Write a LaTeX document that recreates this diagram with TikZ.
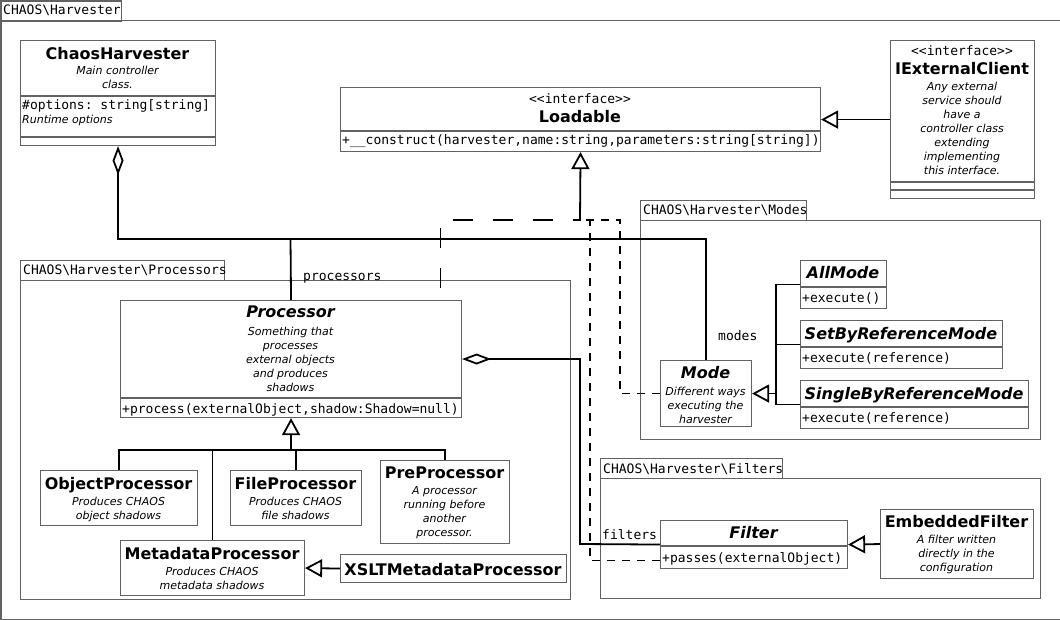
\documentclass[tikz,border=0pt]{standalone}
\usepackage{fontspec}
\setmainfont{DejaVu Sans}
\setmonofont{DejaVu Sans Mono}
\usetikzlibrary{arrows.meta, positioning}
\definecolor{boxgray}{RGB}{98,98,98}
\tikzset{
    umlbox/.style={draw=boxgray, line width=1.1pt, fill=white, rectangle, anchor=north west, inner sep=0pt},
    pkgframe/.style={draw=boxgray, line width=1.1pt, rectangle, anchor=north west, inner sep=0pt},
    cline/.style={draw=boxgray, line width=1.1pt},
    pkglabel/.style={font=\ttfamily\fontsize{13}{15}\selectfont, anchor=base west, inner sep=0pt},
    cname/.style={font=\bfseries\fontsize{16}{19}\selectfont, anchor=base, inner sep=0pt},
    cabstract/.style={font=\bfseries\itshape\fontsize{16}{19}\selectfont, anchor=base, inner sep=0pt},
    cnote/.style={font=\itshape\fontsize{11}{14}\selectfont, anchor=base, align=center, inner sep=0pt},
    cstereo/.style={font=\ttfamily\fontsize{13}{15}\selectfont, anchor=base, inner sep=0pt},
    cmember/.style={font=\ttfamily\fontsize{13}{15}\selectfont, anchor=base west, inner sep=0pt}
}
\tikzset{
    assoc/.style={line width=1.8pt},
    inherit/.style={line width=1.8pt, -{Triangle[open, length=17pt, width=18pt]}},
    aggr/.style={line width=1.8pt, {Diamond[open, length=29pt, width=11pt]}-},
    realizelong/.style={line width=1.8pt, dash pattern=on 20pt off 20pt, dash phase=28pt},
    realize/.style={line width=1.8pt, dash pattern=on 8pt off 7pt}
}
\begin{document}
\begin{tikzpicture}[x=1pt, y=-1pt]
    \useasboundingbox (0,0) rectangle (1060,620);
    % packages
    \node[pkgframe, minimum width=1059pt, minimum height=599pt] (mainframe) at (0.5,20) {};
    \node[pkgframe, minimum width=120pt, minimum height=20pt] (maintab) at (0.5,0.5) {};
    \node[pkglabel] (maintitle) at (3,15) {CHAOS\textbackslash Harvester};
    \node[pkgframe, minimum width=550pt, minimum height=319pt] (procframe) at (20,280) {};
    \node[pkgframe, minimum width=204pt, minimum height=20pt] (proctab) at (20,260) {};
    \node[pkglabel] (proctitle) at (23,275) {CHAOS\textbackslash Harvester\textbackslash Processors};
    \node[pkgframe, minimum width=400pt, minimum height=219pt] (modeframe) at (640,220) {};
    \node[pkgframe, minimum width=166pt, minimum height=20pt] (modetab) at (640,200) {};
    \node[pkglabel] (modetitle) at (643,215) {CHAOS\textbackslash Harvester\textbackslash Modes};
    \node[pkgframe, minimum width=440pt, minimum height=120pt] (filterframe) at (600,478) {};
    \node[pkgframe, minimum width=182pt, minimum height=20pt] (filtertab) at (600,458) {};
    \node[pkglabel] (filtertitle) at (603,473) {CHAOS\textbackslash Harvester\textbackslash Filters};

    % classes (multi-line notes sit on the baseline of their last line)
    \node[umlbox, minimum width=195pt, minimum height=105pt] (harvester) at (20,40) {};
    \node[cname] (harvester-name) at (117.5,60) {ChaosHarvester};
    \node[cnote] (harvester-note) at (117.5,89) {Main controller\\class.};
    \draw[cline] (20,96) -- (215,96);
    \draw[cline] (20,137) -- (215,137);
    \node[cmember] (harvester-attr) at (22,110) {\#options: string[string]};
    \node[cnote, anchor=base west] (harvester-attrnote) at (22,124) {Runtime options};

    \node[umlbox, minimum width=480pt, minimum height=64pt] (loadable) at (340,87) {};
    \node[cstereo] (loadable-stereo) at (580,104) {<{}<interface>{}>};
    \node[cname] (loadable-name) at (580,123) {Loadable};
    \draw[cline] (340,131) -- (820,131);
    \node[cmember] (loadable-op) at (342,145) {+\_\_construct(harvester,name:string,parameters:string[string])};

    \node[umlbox, minimum width=144pt, minimum height=158pt] (client) at (890,40) {};
    \node[cstereo] (client-stereo) at (962,56) {<{}<interface>{}>};
    \node[cname] (client-name) at (962,75) {IExternalClient};
    \node[cnote] (client-note) at (962,175) {Any external\\service should\\have a\\controller class\\extending\\implementing\\this interface.};
    \draw[cline] (890,182) -- (1034,182);
    \draw[cline] (890,190) -- (1034,190);

    \node[umlbox, minimum width=341pt, minimum height=117pt] (processor) at (120,300) {};
    \node[cabstract] (processor-name) at (290.5,318) {Processor};
    \node[cnote] (processor-note) at (290.5,391) {Something that\\processes\\external objects\\and produces\\shadows};
    \draw[cline] (120,398) -- (461,398);
    \node[cmember] (processor-op) at (122,413) {+process(externalObject,shadow:Shadow=null)};

    \node[umlbox, minimum width=157pt, minimum height=55pt] (objproc) at (40,470) {};
    \node[cname] (objproc-name) at (118.5,489) {ObjectProcessor};
    \node[cnote] (objproc-note) at (118.5,519) {Produces CHAOS\\object shadows};

    \node[umlbox, minimum width=131pt, minimum height=55pt] (fileproc) at (230,470) {};
    \node[cname] (fileproc-name) at (295.5,489) {FileProcessor};
    \node[cnote] (fileproc-note) at (295.5,519) {Produces CHAOS\\file shadows};

    \node[umlbox, minimum width=129pt, minimum height=83pt] (preproc) at (380,460) {};
    \node[cname] (preproc-name) at (444.5,478) {PreProcessor};
    \node[cnote] (preproc-note) at (444.5,536) {A processor\\running before\\another\\processor.};

    \node[umlbox, minimum width=184pt, minimum height=55pt] (metaproc) at (120,540) {};
    \node[cname] (metaproc-name) at (212,559) {MetadataProcessor};
    \node[cnote] (metaproc-note) at (212,589) {Produces CHAOS\\metadata shadows};

    \node[umlbox, minimum width=226pt, minimum height=28pt] (xsltproc) at (340,554) {};
    \node[cname] (xsltproc-name) at (453,575) {XSLTMetadataProcessor};

    \node[umlbox, minimum width=91pt, minimum height=66pt] (mode) at (660,360) {};
    \node[cabstract] (mode-name) at (705.5,378) {Mode};
    \node[cnote] (mode-note) at (705.5,423) {Different ways\\executing the\\harvester};

    \node[umlbox, minimum width=86pt, minimum height=48pt] (allmode) at (800,260) {};
    \node[cabstract] (allmode-name) at (843,279) {AllMode};
    \draw[cline] (800,287) -- (886,287);
    \node[cmember] (allmode-op) at (802,302) {+execute()};

    \node[umlbox, minimum width=202pt, minimum height=48pt] (setmode) at (800,320) {};
    \node[cabstract] (setmode-name) at (901,339) {SetByReferenceMode};
    \draw[cline] (800,347) -- (1002,347);
    \node[cmember] (setmode-op) at (802,362) {+execute(reference)};

    \node[umlbox, minimum width=228pt, minimum height=48pt] (singlemode) at (800,380) {};
    \node[cabstract] (singlemode-name) at (914,399) {SingleByReferenceMode};
    \draw[cline] (800,407) -- (1028,407);
    \node[cmember] (singlemode-op) at (802,422) {+execute(reference)};

    \node[umlbox, minimum width=187pt, minimum height=48pt] (filter) at (660,520) {};
    \node[cabstract] (filter-name) at (753.5,538) {Filter};
    \draw[cline] (660,546) -- (847,546);
    \node[cmember] (filter-op) at (662,562) {+passes(externalObject)};

    \node[umlbox, minimum width=153pt, minimum height=69pt] (embedfilter) at (880,509) {};
    \node[cname] (embedfilter-name) at (956.5,527) {EmbeddedFilter};
    \node[cnote] (embedfilter-note) at (956.5,571) {A filter written\\directly in the\\configuration};

    % connectors
    \coordinate (procjoin) at (290.5,239);
    \coordinate (realjoin) at (580,220);
    \coordinate (modetrunk) at (776,0);
    \coordinate (proctrunk) at (0,450);
    \draw[inherit] (client.west) -- (loadable.east);
    \draw[aggr] (harvester.south) |- (procjoin) -| (mode.north);
    \draw[assoc] (procjoin) -- (processor.north);
    \draw[aggr] (processor.east) -| (580,544) -- (filter.west);
    \draw[inherit] (realjoin) -- (loadable.south);
    \draw[realizelong] ([xshift=149.5pt]processor.north) |- (realjoin);
    \draw[realize] (mode.west) -| ([xshift=40pt]realjoin) -- (realjoin);
    \draw[realize] ([yshift=-16pt]filter.west) -| ([xshift=10pt]realjoin) -- (realjoin);
    \draw[assoc] (allmode.west) -| (modetrunk |- singlemode.west) -- (singlemode.west);
    \draw[assoc] (setmode.west) -- (modetrunk |- setmode.west);
    \draw[inherit] (modetrunk |- mode.east) -- (mode.east);
    \draw[inherit] (processor.south |- proctrunk) -- (processor.south);
    \draw[assoc] (objproc.north) |- (preproc.north |- proctrunk) -- (preproc.north);
    \draw[assoc] (fileproc.north) -- (fileproc.north |- proctrunk);
    \draw[assoc] (metaproc.north) -- (metaproc.north |- proctrunk);
    \draw[inherit] (xsltproc.west) -- (metaproc.east);
    \draw[inherit] (embedfilter.west) -- (filter.east);
    \node[cmember] (processors-label) at (303,280) {processors};
    \node[cmember] (modes-label) at (718,340) {modes};
    \node[cmember] (filters-label) at (602,539) {filters};
\end{tikzpicture}
\end{document}
